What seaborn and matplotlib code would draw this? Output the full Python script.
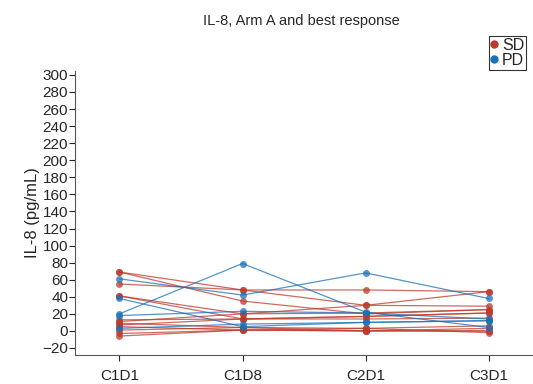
import matplotlib
matplotlib.use("Agg")
import matplotlib.pyplot as plt
import seaborn as sns
import pandas as pd
from matplotlib.lines import Line2D

# Visitas y valores de IL-8 por paciente
visits = ["C1D1", "C1D8", "C2D1", "C3D1"]

sd_patients = [
    [69, 35, 20, 25],
    [55, 48, 48, 46],
    [41, 20, 30, 29],
    [41, 14, 17, 21],
    [69, 48, 30, 46],
    [13, 14, 14, 15],
    [11, 20, 21, 25],
    [9, 4, 3, 6],
    [5, 1, 0, 3],
    [1, 4, 0, 0],
    [-3, 1, 3, -2],
    [-6, 1, 0, 0],
    [7, 14, 17, 21],
]
pd_patients = [
    [20, 79, 22, 4],
    [61, 42, 68, 38],
    [38, 5, 10, 12],
    [3, 8, 10, 12],
    [18, 23, 21, 14],
]

rows = []
for i, vals in enumerate(sd_patients):
    for v, val in zip(visits, vals):
        rows.append({"patient": f"SD{i}", "visit": v, "il8": val, "response": "SD"})
for i, vals in enumerate(pd_patients):
    for v, val in zip(visits, vals):
        rows.append({"patient": f"PD{i}", "visit": v, "il8": val, "response": "PD"})
df = pd.DataFrame(rows)
df["x"] = df["visit"].map({v: i for i, v in enumerate(visits)})

sns.set_style("ticks")
plt.rcParams["font.family"] = ["Liberation Sans", "DejaVu Sans"]

fig = plt.figure(figsize=(5.33, 3.84), dpi=100)
ax = fig.add_axes([0.141, 0.076, 0.859, 0.74])

palette = {"SD": "#BC3A2B", "PD": "#1A70B8"}
sns.lineplot(data=df, x="x", y="il8", hue="response", units="patient",
             estimator=None, palette=palette, marker="o", markersize=5,
             markeredgewidth=0, linewidth=0.9, alpha=0.75, ax=ax, legend=False)

ax.set_xlim(-0.36, 3.36)
ax.set_ylim(-28, 305)
ax.set_xticks(range(len(visits)))
ax.set_xticklabels(visits, fontsize=11)
ax.set_yticks(range(-20, 301, 20))
ax.tick_params(axis="y", labelsize=11, length=4, pad=1)
ax.tick_params(axis="x", length=4, pad=6)
ax.set_xlabel("")
ax.set_ylabel("IL-8 (pg/mL)", fontsize=12, labelpad=2)
sns.despine(ax=ax)
for s in ["left", "bottom"]:
    ax.spines[s].set_color("#555555")

fig.text(0.565, 0.945, "IL-8, Arm A and best response", ha="center",
         va="center", fontsize=10.5)

handles = [Line2D([], [], marker="o", color=palette[k], linestyle="", markersize=5)
           for k in ["SD", "PD"]]
leg = fig.legend(handles, ["SD", "PD"], loc="upper left",
                 bbox_to_anchor=(0.918, 0.905), fontsize=11.5, frameon=True,
                 handlelength=0.4, handletextpad=0.3, borderpad=0.1,
                 labelspacing=0.0, borderaxespad=0, fancybox=False)
leg.get_frame().set_edgecolor("black")
leg.get_frame().set_linewidth(0.8)

fig.savefig("out.png", dpi=100)
